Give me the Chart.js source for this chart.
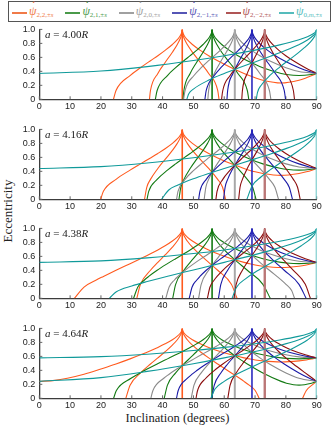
<!DOCTYPE html>
<html>
<head>
<meta charset="utf-8">
<script src="https://cdn.jsdelivr.net/npm/chart.js@4.4.1/dist/chart.umd.min.js"></script>
<style>
  body { margin: 0; width: 332px; height: 428px; background: #fff; position: relative; overflow: hidden; font-family: "Liberation Serif", serif; }
  .panel { position: absolute; left: 0; width: 332px; height: 100px; }
  #legend { position: absolute; left: 7.5px; top: 0.5px; width: 321px; height: 19px; border: 1.3px solid #555; background: #fff; }
  .lg-line { position: absolute; top: 10px; width: 15px; height: 2px; }
  .lg-text { position: absolute; top: 0px; font-size: 12px; line-height: 19px; white-space: nowrap; }
  .lg-text sub { font-size: 7px; vertical-align: -2px; }
  .psi { position: relative; display: inline-block; font-style: italic; line-height: 12px; }
  .psi b { position: absolute; left: 3px; top: -4px; font-weight: bold; font-style: normal; font-size: 10px; line-height: 10px; }
  .alabel { position: absolute; left: 45px; font-size: 11px; line-height: 11px; color: #222; white-space: nowrap; }
  #ylab { position: absolute; left: 8px; top: 211px; transform: translate(-50%, -50%) rotate(-90deg); font-size: 13px; color: #222; white-space: nowrap; }
  #xlab { position: absolute; left: 177.5px; top: 418px; transform: translate(-50%, -50%); font-size: 12.5px; color: #222; white-space: nowrap; }
</style>
</head>
<body>
<div id="legend"></div>
<div id="ylab">Eccentricity</div>
<div id="xlab">Inclination (degrees)</div>
<script>
// semi-major axes of the four panels
const aLabels = ['4.00', '4.16', '4.38', '4.64'];
const familyNames = ['2,2', '2,1', '2,0', '2,\u22121', '2,\u22122', '0,<i>m</i>'];
const lineColors = ['#ff5a1e', '#137a13', '#8a8a8a', '#1a1aa6', '#8c0e0e', '#109a9a'];
const legendColors = ['#f07a48', '#4a9a4a', '#a0a0a0', '#5555b5', '#b05555', '#55bcbc'];
const cuspColors = ['#ff5a1e', '#137a13', '#a8a8a8', '#2a2ac0', '#bb7777', '#66c4c4'];
const cuspWidths = [1.6, 1.6, 2, 1.6, 2.4, 2];
// inclinations where each family reaches e = 1
const cuspIncl = [46.38, 56.06, 63.43, 69.0, 73.15, 90];
const xTicks = [0, 10, 20, 30, 40, 50, 60, 70, 80, 90];
const yTicks = [0, 0.2, 0.4, 0.6, 0.8, 1];

// ---- a = 4.00R ----
const orange400 = [
  [[35.74,0],[36.07,.126],[38.46,.37],[40.82,.527],[43.18,.674],[44.77,.784],[45.73,.869],[46.22,.937],[46.38,1]],
  [[24.06,0],[24.89,.126],[29.45,.34],[32.83,.452],[36.07,.552],[38.46,.624],[40.82,.7],[43.18,.784],[44.77,.853],[45.73,.91],[46.22,.956],[46.38,1]],
  [[46.38,1],[46.54,.937],[47.02,.869],[48.01,.784],[49.67,.674],[52.24,.527],[54.96,.37],[57.88,.126],[58.31,0]],
  [[46.38,1],[46.54,.956],[47.02,.91],[48.01,.853],[49.67,.784],[52.24,.7],[54.96,.624],[57.88,.552],[62.32,.452],[66.42,.37],[68.09,.34],[70.04,.308],[72.54,.273],[78.46,.233],[84.26,.273],[86.64,.308],[88.46,.34],[90,.37]]
];
const green400 = [
  [[46.63,0],[46.91,.126],[48.94,.37],[51.01,.527],[53.13,.674],[54.58,.784],[55.46,.869],[55.91,.937],[56.06,1]],
  [[37.65,0],[38.23,.126],[41.58,.34],[44.24,.452],[46.91,.552],[48.94,.624],[51.01,.7],[53.13,.784],[54.58,.853],[55.46,.91],[55.91,.956],[56.06,1]],
  [[56.06,1],[56.22,.937],[56.67,.869],[57.6,.784],[59.18,.674],[61.69,.527],[64.43,.37],[67.49,.126],[67.96,0]],
  [[56.06,1],[56.22,.956],[56.67,.91],[57.6,.853],[59.18,.784],[61.69,.7],[64.43,.624],[67.49,.552],[72.54,.452],[78.46,.37],[80.17,.355],[84.26,.34],[88.32,.355],[90,.37]]
];
const gray400 = [
  [[54.68,0],[54.94,.126],[56.79,.37],[58.69,.527],[60.66,.674],[62.03,.784],[62.87,.869],[63.29,.937],[63.43,1]],
  [[46.81,0],[47.29,.126],[50.19,.34],[52.53,.452],[54.94,.552],[56.79,.624],[58.69,.7],[60.66,.784],[62.03,.853],[62.87,.91],[63.29,.956],[63.43,1]],
  [[63.43,1],[63.58,.937],[64.01,.869],[64.9,.784],[66.42,.674],[68.87,.527],[71.57,.37],[74.66,.126],[75.14,0]],
  [[63.43,1],[63.58,.956],[64.01,.91],[64.9,.853],[66.42,.784],[68.87,.7],[71.57,.624],[74.66,.552],[80.03,.452],[84.26,.398],[90,.37]]
];
const blue400 = [
  [[60.88,0],[61.11,.126],[62.82,.37],[64.59,.527],[66.42,.674],[67.69,.784],[68.47,.869],[68.87,.937],[69,1]],
  [[53.72,0],[54.16,.126],[56.77,.34],[58.9,.452],[61.11,.552],[62.82,.624],[64.59,.7],[66.42,.784],[67.69,.853],[68.47,.91],[68.87,.956],[69,1]],
  [[69,1],[69.14,.937],[69.55,.869],[70.37,.784],[71.8,.674],[74.09,.527],[76.6,.37],[79.46,.126],[79.9,0]],
  [[69,1],[69.14,.956],[69.55,.91],[70.37,.853],[71.8,.784],[74.09,.7],[76.6,.624],[79.46,.552],[84.26,.452],[87.63,.398],[90,.37]]
];
const red400 = [
  [[65.69,0],[65.9,.126],[67.47,.37],[69.1,.527],[70.78,.674],[71.95,.784],[72.66,.869],[73.03,.937],[73.15,1]],
  [[59.13,0],[59.53,.126],[61.91,.34],[63.88,.452],[65.9,.552],[67.47,.624],[69.1,.7],[70.78,.784],[71.95,.853],[72.66,.91],[73.03,.956],[73.15,1]],
  [[73.15,1],[73.27,.937],[73.64,.869],[74.39,.784],[75.69,.674],[77.74,.527],[79.97,.37],[82.43,.126],[82.8,0]],
  [[73.15,1],[73.27,.956],[73.64,.91],[74.39,.853],[75.69,.784],[77.74,.7],[79.97,.624],[82.43,.552],[86.3,.452],[90,.37]]
];
const teal400 = [
  [[0,.37],[20,.404],[35,.468],[50,.555],[60,.624],[70,.704],[78,.779],[84,.849],[87,.896],[89,.941],[89.5,.959],[90,1]],
  [[47.85,0],[48.5,.08],[50,.146],[55,.275],[60,.37],[65,.454],[70,.535],[75,.616],[80,.701],[84,.778],[87,.849],[89,.916],[89.5,.941],[90,1]],
  [[70.39,0],[70.8,.1],[72,.201],[75,.349],[78,.461],[81,.563],[84,.665],[86,.738],[88,.823],[89,.879],[89.5,.916],[90,1]]
];

// ---- a = 4.16R ----
const orange416 = [
  [[34.14,0],[34.87,.172],[36.07,.285],[38.46,.441],[40.82,.571],[43.18,.7],[44.77,.8],[45.73,.879],[46.22,.941],[46.38,1]],
  [[19.91,0],[20.8,.114],[24.89,.285],[29.45,.417],[32.83,.507],[36.07,.592],[38.46,.656],[40.82,.723],[43.18,.8],[44.77,.863],[45.73,.916],[46.22,.959],[46.38,1]],
  [[46.38,1],[46.54,.941],[47.02,.879],[48.01,.8],[49.67,.7],[52.24,.571],[54.96,.441],[57.88,.285],[59.46,.172],[60.44,0]],
  [[46.38,1],[46.54,.959],[47.02,.916],[48.01,.863],[49.67,.8],[52.24,.723],[54.96,.656],[57.88,.592],[62.32,.507],[66.42,.441],[68.09,.417],[70.04,.393],[72.54,.369],[78.46,.342],[84.26,.369],[86.64,.393],[88.46,.417],[90,.441]]
];
const green416 = [
  [[45.31,0],[45.91,.172],[46.91,.285],[48.94,.441],[51.01,.571],[53.13,.7],[54.58,.8],[55.46,.879],[55.91,.941],[56.06,1]],
  [[34.95,0],[35.5,.114],[38.23,.285],[41.58,.417],[44.24,.507],[46.91,.592],[48.94,.656],[51.01,.723],[53.13,.8],[54.58,.863],[55.46,.916],[55.91,.959],[56.06,1]],
  [[56.06,1],[56.22,.941],[56.67,.879],[57.6,.8],[59.18,.7],[61.69,.571],[64.43,.441],[67.49,.285],[69.21,.172],[70.33,0]],
  [[56.06,1],[56.22,.959],[56.67,.916],[57.6,.863],[59.18,.8],[61.69,.723],[64.43,.656],[67.49,.592],[72.54,.507],[78.46,.441],[80.17,.429],[84.26,.417],[88.32,.429],[90,.441]]
];
const gray416 = [
  [[53.49,0],[54.03,.172],[54.94,.285],[56.79,.441],[58.69,.571],[60.66,.7],[62.03,.8],[62.87,.879],[63.29,.941],[63.43,1]],
  [[44.54,0],[45,.114],[47.29,.285],[50.19,.417],[52.53,.507],[54.94,.592],[56.79,.656],[58.69,.723],[60.66,.8],[62.03,.863],[62.87,.916],[63.29,.959],[63.43,1]],
  [[63.43,1],[63.58,.941],[64.01,.879],[64.9,.8],[66.42,.7],[68.87,.571],[71.57,.441],[74.66,.285],[76.44,.172],[77.62,0]],
  [[63.43,1],[63.58,.959],[64.01,.916],[64.9,.863],[66.42,.8],[68.87,.723],[71.57,.656],[74.66,.592],[80.03,.507],[84.26,.463],[90,.441]]
];
const blue416 = [
  [[59.78,0],[60.28,.172],[61.11,.285],[62.82,.441],[64.59,.571],[66.42,.7],[67.69,.8],[68.47,.879],[68.87,.941],[69,1]],
  [[51.71,0],[52.11,.114],[54.16,.285],[56.77,.417],[58.9,.507],[61.11,.592],[62.82,.656],[64.59,.723],[66.42,.8],[67.69,.863],[68.47,.916],[68.87,.959],[69,1]],
  [[69,1],[69.14,.941],[69.55,.879],[70.37,.8],[71.8,.7],[74.09,.571],[76.6,.441],[79.46,.285],[81.09,.172],[82.15,0]],
  [[69,1],[69.14,.959],[69.55,.916],[70.37,.863],[71.8,.8],[74.09,.723],[76.6,.656],[79.46,.592],[84.26,.507],[87.63,.463],[90,.441]]
];
const red416 = [
  [[64.68,0],[65.13,.172],[65.9,.285],[67.47,.441],[69.1,.571],[70.78,.7],[71.95,.8],[72.66,.879],[73.03,.941],[73.15,1]],
  [[57.3,0],[57.67,.114],[59.53,.285],[61.91,.417],[63.88,.507],[65.9,.592],[67.47,.656],[69.1,.723],[70.78,.8],[71.95,.863],[72.66,.916],[73.03,.959],[73.15,1]],
  [[73.15,1],[73.27,.941],[73.64,.879],[74.39,.8],[75.69,.7],[77.74,.571],[79.97,.441],[82.43,.285],[83.79,.172],[84.65,0]],
  [[73.15,1],[73.27,.959],[73.64,.916],[74.39,.863],[75.69,.8],[77.74,.723],[79.97,.656],[82.43,.592],[86.3,.507],[90,.441]]
];
const teal416 = [
  [[0,.441],[20,.468],[35,.52],[50,.595],[60,.656],[70,.727],[78,.795],[84,.86],[87,.903],[89,.945],[89.5,.962],[90,1]],
  [[39.65,0],[42,.133],[45,.204],[50,.294],[55,.37],[60,.441],[65,.509],[70,.578],[75,.648],[80,.725],[84,.795],[87,.86],[89,.922],[89.5,.945],[90,1]],
  [[67.36,0],[69,.188],[72,.323],[75,.424],[78,.515],[81,.602],[84,.692],[86,.758],[88,.836],[89,.887],[89.5,.922],[90,1]]
];

// ---- a = 4.38R ----
const orange438 = [
  [[31.63,0],[32.83,.2],[36.07,.401],[38.46,.514],[40.82,.62],[43.18,.731],[44.77,.819],[45.73,.89],[46.22,.947],[46.38,1]],
  [[11.39,0],[14.51,.161],[18.49,.262],[20.8,.313],[24.89,.401],[29.45,.496],[32.83,.567],[36.07,.637],[38.46,.692],[40.82,.751],[43.18,.819],[44.77,.876],[45.73,.923],[46.22,.963],[46.38,1]],
  [[46.38,1],[46.54,.947],[47.02,.89],[48.01,.819],[49.67,.731],[52.24,.62],[54.96,.514],[57.88,.401],[62.32,.2],[64.16,0]],
  [[46.38,1],[46.54,.963],[47.02,.923],[48.01,.876],[49.67,.819],[52.24,.751],[54.96,.692],[57.88,.637],[62.32,.567],[66.42,.514],[68.09,.496],[70.04,.477],[72.54,.459],[78.46,.44],[84.26,.459],[86.64,.477],[88.46,.496],[90,.514]]
];
const green438 = [
  [[43.28,0],[44.24,.2],[46.91,.401],[48.94,.514],[51.01,.62],[53.13,.731],[54.58,.819],[55.46,.89],[55.91,.947],[56.06,1]],
  [[30.59,0],[31.97,.161],[34.11,.262],[35.5,.313],[38.23,.401],[41.58,.496],[44.24,.567],[46.91,.637],[48.94,.692],[51.01,.751],[53.13,.819],[54.58,.876],[55.46,.923],[55.91,.963],[56.06,1]],
  [[56.06,1],[56.22,.947],[56.67,.89],[57.6,.819],[59.18,.731],[61.69,.62],[64.43,.514],[67.49,.401],[72.54,.2],[74.93,0]],
  [[56.06,1],[56.22,.963],[56.67,.923],[57.6,.876],[59.18,.819],[61.69,.751],[64.43,.692],[67.49,.637],[72.54,.567],[78.46,.514],[80.17,.505],[84.26,.496],[88.32,.505],[90,.514]]
];
const gray438 = [
  [[51.68,0],[52.53,.2],[54.94,.401],[56.79,.514],[58.69,.62],[60.66,.731],[62.03,.819],[62.87,.89],[63.29,.947],[63.43,1]],
  [[41.04,0],[42.13,.161],[43.85,.262],[45,.313],[47.29,.401],[50.19,.496],[52.53,.567],[54.94,.637],[56.79,.692],[58.69,.751],[60.66,.819],[62.03,.876],[62.87,.923],[63.29,.963],[63.43,1]],
  [[63.43,1],[63.58,.947],[64.01,.89],[64.9,.819],[66.42,.731],[68.87,.62],[71.57,.514],[74.66,.401],[80.03,.2],[81.87,.11],[82.82,0]],
  [[63.43,1],[63.58,.963],[64.01,.923],[64.9,.876],[66.42,.819],[68.87,.751],[71.57,.692],[74.66,.637],[80.03,.567],[84.26,.531],[90,.514]]
];
const blue438 = [
  [[58.13,0],[58.9,.2],[61.11,.401],[62.82,.514],[64.59,.62],[66.42,.731],[67.69,.819],[68.47,.89],[68.87,.947],[69,1]],
  [[48.64,0],[49.58,.161],[51.1,.262],[52.11,.313],[54.16,.401],[56.77,.496],[58.9,.567],[61.11,.637],[62.82,.692],[64.59,.751],[66.42,.819],[67.69,.876],[68.47,.923],[68.87,.963],[69,1]],
  [[69,1],[69.14,.947],[69.55,.89],[70.37,.819],[71.8,.731],[74.09,.62],[76.6,.514],[79.46,.401],[84.26,.2],[86.56,0]],
  [[69,1],[69.14,.963],[69.55,.923],[70.37,.876],[71.8,.819],[74.09,.751],[76.6,.692],[79.46,.637],[84.26,.567],[87.63,.531],[90,.514]]
];
const red438 = [
  [[63.16,0],[63.88,.2],[65.9,.401],[67.47,.514],[69.1,.62],[70.78,.731],[71.95,.819],[72.66,.89],[73.03,.947],[73.15,1]],
  [[54.53,0],[55.38,.161],[56.75,.262],[57.67,.313],[59.53,.401],[61.91,.496],[63.88,.567],[65.9,.637],[67.47,.692],[69.1,.751],[70.78,.819],[71.95,.876],[72.66,.923],[73.03,.963],[73.15,1]],
  [[73.15,1],[73.27,.947],[73.64,.89],[74.39,.819],[75.69,.731],[77.74,.62],[79.97,.514],[82.43,.401],[86.3,.2],[87.95,0]],
  [[73.15,1],[73.27,.963],[73.64,.923],[74.39,.876],[75.69,.819],[77.74,.751],[79.97,.692],[82.43,.637],[86.3,.567],[90,.514]]
];
const teal438 = [
  [[0,.514],[20,.535],[35,.578],[50,.64],[60,.692],[70,.755],[78,.815],[84,.873],[87,.912],[89,.95],[89.5,.965],[90,1]],
  [[22.75,0],[25,.093],[30,.176],[35,.24],[42,.32],[50,.406],[60,.514],[70,.625],[78,.725],[84,.814],[87,.873],[89,.929],[89.5,.95],[90,1]],
  [[62.54,0],[64,.158],[67,.282],[70,.373],[74,.476],[78,.573],[82,.671],[85,.752],[87,.814],[88.5,.873],[89.5,.929],[90,1]]
];

// ---- a = 4.64R ----
const orange464 = [
  [[28.07,0],[29.45,.188],[32.83,.363],[36.07,.491],[38.46,.578],[40.82,.666],[43.18,.761],[44.77,.838],[45.73,.901],[46.22,.952],[46.38,1]],
  [[0,.242],[5,.256],[9.1,.287],[14.51,.345],[18.49,.397],[20.8,.43],[24.89,.491],[29.45,.564],[32.83,.622],[36.07,.681],[38.46,.728],[40.82,.779],[43.18,.838],[44.77,.889],[45.73,.931],[46.22,.966],[46.38,1]],
  [[46.38,1],[46.54,.952],[47.02,.901],[48.01,.838],[49.67,.761],[52.24,.666],[54.96,.578],[57.88,.491],[62.32,.363],[66.42,.242],[68.09,.188],[70.04,.112],[71.34,0]],
  [[85.41,0],[86.64,.112],[88.46,.188],[90,.242]],
  [[46.38,1],[46.54,.966],[47.02,.931],[48.01,.889],[49.67,.838],[52.24,.779],[54.96,.728],[57.88,.681],[62.32,.622],[66.42,.578],[68.09,.564],[70.04,.549],[72.54,.535],[78.46,.52],[84.26,.535],[86.64,.549],[88.46,.564],[90,.578]]
];
const green464 = [
  [[40.53,0],[41.58,.188],[44.24,.363],[46.91,.491],[48.94,.578],[51.01,.666],[53.13,.761],[54.58,.838],[55.46,.901],[55.91,.952],[56.06,1]],
  [[24.1,0],[25.01,.112],[29.76,.287],[31.97,.345],[34.11,.397],[35.5,.43],[38.23,.491],[41.58,.564],[44.24,.622],[46.91,.681],[48.94,.728],[51.01,.779],[53.13,.838],[54.58,.889],[55.46,.931],[55.91,.966],[56.06,1]],
  [[56.06,1],[56.22,.952],[56.67,.901],[57.6,.838],[59.18,.761],[61.69,.666],[64.43,.578],[67.49,.491],[72.54,.363],[78.46,.242],[80.17,.216],[84.26,.188],[88.32,.216],[90,.242]],
  [[56.06,1],[56.22,.966],[56.67,.931],[57.6,.889],[59.18,.838],[61.69,.779],[64.43,.728],[67.49,.681],[72.54,.622],[78.46,.578],[80.17,.571],[84.26,.564],[88.32,.571],[90,.578]]
];
const gray464 = [
  [[49.28,0],[50.19,.188],[52.53,.363],[54.94,.491],[56.79,.578],[58.69,.666],[60.66,.761],[62.03,.838],[62.87,.901],[63.29,.952],[63.43,1]],
  [[36.19,0],[36.87,.112],[40.39,.287],[42.13,.345],[43.85,.397],[45,.43],[47.29,.491],[50.19,.564],[52.53,.622],[54.94,.681],[56.79,.728],[58.69,.779],[60.66,.838],[62.03,.889],[62.87,.931],[63.29,.966],[63.43,1]],
  [[63.43,1],[63.58,.952],[64.01,.901],[64.9,.838],[66.42,.761],[68.87,.666],[71.57,.578],[74.66,.491],[80.03,.363],[84.26,.287],[90,.242]],
  [[63.43,1],[63.58,.966],[64.01,.931],[64.9,.889],[66.42,.838],[68.87,.779],[71.57,.728],[74.66,.681],[80.03,.622],[84.26,.593],[90,.578]]
];
const blue464 = [
  [[55.94,0],[56.77,.188],[58.9,.363],[61.11,.491],[62.82,.578],[64.59,.666],[66.42,.761],[67.69,.838],[68.47,.901],[68.87,.952],[69,1]],
  [[44.51,0],[45.07,.112],[48.08,.287],[49.58,.345],[51.1,.397],[52.11,.43],[54.16,.491],[56.77,.564],[58.9,.622],[61.11,.681],[62.82,.728],[64.59,.779],[66.42,.838],[67.69,.889],[68.47,.931],[68.87,.966],[69,1]],
  [[69,1],[69.14,.952],[69.55,.901],[70.37,.838],[71.8,.761],[74.09,.666],[76.6,.578],[79.46,.491],[84.26,.363],[87.63,.287],[90,.242]],
  [[69,1],[69.14,.966],[69.55,.931],[70.37,.889],[71.8,.838],[74.09,.779],[76.6,.728],[79.46,.681],[84.26,.622],[87.63,.593],[90,.578]]
];
const red464 = [
  [[61.16,0],[61.91,.188],[63.88,.363],[65.9,.491],[67.47,.578],[69.1,.666],[70.78,.761],[71.95,.838],[72.66,.901],[73.03,.952],[73.15,1]],
  [[50.84,0],[51.35,.112],[54.03,.287],[55.38,.345],[56.75,.397],[57.67,.43],[59.53,.491],[61.91,.564],[63.88,.622],[65.9,.681],[67.47,.728],[69.1,.779],[70.78,.838],[71.95,.889],[72.66,.931],[73.03,.966],[73.15,1]],
  [[73.15,1],[73.27,.952],[73.64,.901],[74.39,.838],[75.69,.761],[77.74,.666],[79.97,.578],[82.43,.491],[86.3,.363],[88.65,.287],[90,.242]],
  [[73.15,1],[73.27,.966],[73.64,.931],[74.39,.889],[75.69,.838],[77.74,.779],[79.97,.728],[82.43,.681],[86.3,.622],[88.65,.593],[90,.578]]
];
const teal464 = [
  [[0,.578],[20,.596],[35,.631],[50,.683],[60,.728],[70,.781],[78,.835],[84,.886],[87,.921],[89,.955],[89.5,.968],[90,1]],
  [[0,.242],[20,.296],[35,.385],[50,.495],[60,.578],[70,.67],[78,.756],[84,.834],[87,.886],[89,.936],[89.5,.955],[90,1]],
  [[55.66,0],[57,.132],[60,.242],[63,.321],[66,.388],[70,.471],[74,.549],[78,.627],[82,.709],[85,.779],[87,.834],[88.5,.886],[89.5,.936],[90,1]]
];

const panelCurves = [
  [orange400, green400, gray400, blue400, red400, teal400],
  [orange416, green416, gray416, blue416, red416, teal416],
  [orange438, green438, gray438, blue438, red438, teal438],
  [orange464, green464, gray464, blue464, red464, teal464]
];
const panelTops = [20, 120, 219, 319];

// legend
const legend = document.getElementById('legend');
familyNames.forEach((name, k) => {
  const x = 3.5 + 53.4 * k;
  const line = document.createElement('div');
  line.className = 'lg-line';
  line.style.left = x + 'px';
  line.style.background = legendColors[k];
  legend.appendChild(line);
  const txt = document.createElement('div');
  txt.className = 'lg-text';
  txt.style.left = (x + 17) + 'px';
  txt.style.color = legendColors[k];
  txt.innerHTML = '<span class="psi">\u03C8<b>\u02D9</b></span><sub>' + name + ',\u00B1<i>s</i></sub>';
  legend.appendChild(txt);
});

const inwardTicks = {
  id: 'inwardTicks',
  beforeDatasetsDraw(chart) {
    const { ctx, chartArea: a, scales: { x, y } } = chart;
    ctx.save();
    ctx.strokeStyle = '#666';
    ctx.lineWidth = 1;
    xTicks.forEach(v => {
      const px = x.getPixelForValue(v);
      ctx.beginPath(); ctx.moveTo(px, a.bottom); ctx.lineTo(px, a.bottom - 3); ctx.stroke();
    });
    yTicks.forEach(v => {
      const py = y.getPixelForValue(v);
      ctx.beginPath(); ctx.moveTo(a.left, py); ctx.lineTo(a.left + 3, py); ctx.stroke();
    });
    ctx.restore();
  }
};

panelCurves.forEach((families, p) => {
  const div = document.createElement('div');
  div.className = 'panel';
  div.style.top = panelTops[p] + 'px';
  const canvas = document.createElement('canvas');
  canvas.width = 332; canvas.height = 100;
  div.appendChild(canvas);
  const lab = document.createElement('div');
  lab.className = 'alabel';
  lab.style.top = '9px';
  lab.innerHTML = '<i>a</i> = ' + aLabels[p] + '<i>R</i>';
  div.appendChild(lab);
  document.body.appendChild(div);

  const datasets = [];
  families.forEach((curves, f) => {
    curves.forEach(pts => {
      datasets.push({
        data: pts.map(([x, y]) => ({ x, y })),
        borderColor: lineColors[f],
        borderWidth: 1.1,
        pointRadius: 0,
        cubicInterpolationMode: 'monotone',
        fill: false
      });
    });
    datasets.push({
      data: [{ x: cuspIncl[f], y: 0 }, { x: cuspIncl[f], y: 1 }],
      borderColor: cuspColors[f],
      borderWidth: cuspWidths[f],
      pointRadius: 0,
      tension: 0,
      fill: false
    });
  });
  datasets.reverse();

  const tickFont = { family: 'Liberation Sans', size: 9 };
  new Chart(canvas, {
    type: 'line',
    data: { datasets },
    plugins: [inwardTicks],
    options: {
      responsive: false,
      animation: false,
      events: [],
      layout: { padding: { left: 0, right: 15.3, top: 8.5, bottom: 0 } },
      plugins: { legend: { display: false }, tooltip: { enabled: false } },
      scales: {
        x: {
          type: 'linear', min: 0, max: 90,
          afterFit: s => { s.height = 20.7; },
          ticks: { stepSize: 10, padding: 2, color: '#222', font: tickFont, maxRotation: 0, autoSkip: false },
          grid: { display: true, drawOnChartArea: false, drawTicks: false },
          border: { display: true, color: '#3c3c3c', width: 1.3 }
        },
        y: {
          type: 'linear', min: 0, max: 1,
          afterFit: s => { s.width = 39.3; },
          ticks: { stepSize: 0.2, padding: 4, color: '#222', font: tickFont },
          grid: { display: true, drawOnChartArea: false, drawTicks: false },
          border: { display: true, color: '#3c3c3c', width: 1.3 }
        }
      }
    }
  });
});
</script>
</body>
</html>
